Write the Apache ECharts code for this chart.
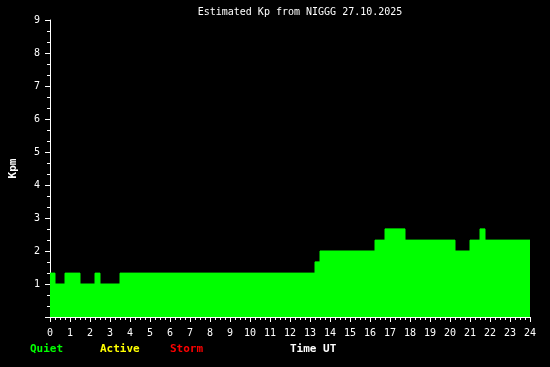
<!DOCTYPE html>
<html>
<head>
<meta charset="utf-8">
<script src="https://cdn.jsdelivr.net/npm/echarts@6/dist/echarts.min.js"></script>
<style>
html,body{margin:0;padding:0;background:#000;}
#c{width:550px;height:367px;}
</style>
</head>
<body>
<div id="c"></div>
<script>
// Step start times (hours UT) and estimated Kp values
const times = [0, 0.25, 0.75, 1.5, 2.25, 2.5, 3.5, 13.25, 13.5, 16.25, 16.75, 17.75, 20.25, 21, 21.5, 21.75, 24];
const kp    = [1.33, 1.0, 1.33, 1.0, 1.33, 1.0, 1.33, 1.67, 2.0, 2.33, 2.67, 2.33, 2.0, 2.33, 2.67, 2.33, 2.33];
const xTicks = [0, 24, 1];
const yTicks = [0, 9, 1];
const titleText = 'Estimated Kp from NIGGG 27.10.2025';
const legendItems = ['Quiet', 'Active', 'Storm'];
const legendColors = ['#00ff00', '#ffff00', '#ff0000'];

const mono = 'DejaVu Sans Mono';
const chart = echarts.init(document.getElementById('c'));
const data = times.map((t, i) => [t, kp[i]]);

const legendX = [30, 100, 170];
const graphics = legendItems.map((name, i) => ({
  type: 'text', left: legendX[i], top: 344,
  style: { text: name, fill: legendColors[i], font: 'bold 11px "' + mono + '"' }
}));
graphics.push({
  type: 'text', left: 290, top: 344,
  style: { text: 'Time UT', fill: '#ffffff', font: 'bold 11px "' + mono + '"' }
});
graphics.push({
  type: 'text', x: 300, y: 7,
  style: { text: titleText, fill: '#ffffff', font: '10px "' + mono + '"', align: 'center' }
});

chart.setOption({
  backgroundColor: '#000000',
  animation: false,
  grid: { left: 50, right: 20, top: 20, bottom: 50, containLabel: false, outerBoundsMode: 'none' },
  xAxis: {
    type: 'value', min: xTicks[0], max: xTicks[1], interval: xTicks[2],
    axisLine: { show: true, lineStyle: { color: '#ffffff', width: 1 } },
    axisTick: { show: true, length: 5, lineStyle: { color: '#ffffff' } },
    minorTick: { show: true, splitNumber: 4, length: 3, lineStyle: { color: '#ffffff' } },
    splitLine: { show: false },
    axisLabel: { color: '#ffffff', fontFamily: mono, fontSize: 10, margin: 11 }
  },
  yAxis: {
    type: 'value', min: yTicks[0], max: yTicks[1], interval: yTicks[2],
    name: 'Kpm', nameLocation: 'middle', nameRotate: 90, nameGap: 31,
    nameTextStyle: { color: '#ffffff', fontFamily: mono, fontSize: 11, fontWeight: 'bold' },
    axisLine: { show: true, lineStyle: { color: '#ffffff', width: 1 } },
    axisTick: { show: true, length: 5, lineStyle: { color: '#ffffff' } },
    minorTick: { show: true, splitNumber: 3, length: 3, lineStyle: { color: '#ffffff' } },
    splitLine: { show: false },
    axisLabel: {
      color: '#ffffff', fontFamily: mono, fontSize: 10, margin: 10,
      formatter: v => (v === 0 ? '' : String(v))
    }
  },
  series: [{
    type: 'line', step: 'end', data: data, symbol: 'none',
    lineStyle: { color: '#00ff00', width: 1 },
    areaStyle: { color: '#00ff00', opacity: 1 },
    z: 3
  }],
  graphic: graphics
});
</script>
</body>
</html>
